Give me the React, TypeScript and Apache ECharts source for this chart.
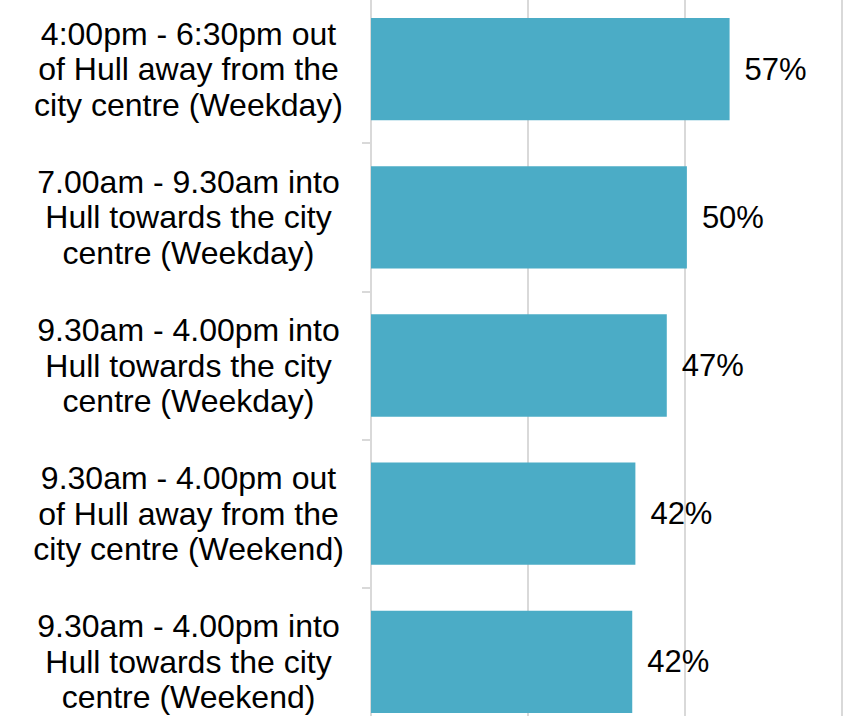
import React, { useEffect, useRef } from "react";
import * as echarts from "echarts";

const categories: string[] = [
  "4:00pm - 6:30pm out\nof Hull away from the\ncity centre (Weekday)",
  "7.00am - 9.30am into\nHull towards the city\ncentre (Weekday)",
  "9.30am - 4.00pm into\nHull towards the city\ncentre (Weekday)",
  "9.30am - 4.00pm out\nof Hull away from the\ncity centre (Weekend)",
  "9.30am - 4.00pm into\nHull towards the city\ncentre (Weekend)",
];
const values: number[] = [57.1, 50.3, 47.1, 42.1, 41.6];
const xTicks: number[] = [0, 25, 50, 75];

export default function App() {
  const ref = useRef<HTMLDivElement>(null);
  useEffect(() => {
    if (!ref.current) return;
    const chart = echarts.init(ref.current, undefined, { renderer: "svg" });
    const font = "'Liberation Sans', Arial, sans-serif";
    chart.setOption({
      animation: false,
      grid: {
        left: 371,
        right: 14,
        top: -5,
        height: 741,
        containLabel: false,
        outerBoundsMode: "none",
      },
      xAxis: {
        type: "value",
        min: xTicks[0],
        max: xTicks[xTicks.length - 1],
        interval: xTicks[1] - xTicks[0],
        axisLabel: { show: false },
        axisLine: { show: false },
        axisTick: { show: false },
        splitLine: { lineStyle: { color: "#d9d9d9", width: 2 } },
      },
      yAxis: {
        type: "category",
        inverse: true,
        data: categories,
        axisLine: { show: true, lineStyle: { color: "#d9d9d9", width: 2 } },
        axisTick: { show: true, length: 9, lineStyle: { color: "#d9d9d9", width: 2 } },
        axisLabel: {
          color: "#000",
          fontSize: 32,
          fontFamily: font,
          lineHeight: 35.5,
          align: "center",
          margin: 182.5,
        },
      },
      series: [
        {
          type: "bar",
          data: values,
          barCategoryGap: "31%",
          itemStyle: { color: "#4BACC6" },
          label: {
            show: true,
            position: "right",
            distance: 15,
            color: "#000",
            fontSize: 31,
            fontFamily: font,
            formatter: (p: any) => Math.round(p.value) + "%",
          },
        },
      ],
    });
    return () => chart.dispose();
  }, []);
  return (
    <div
      ref={ref}
      style={{ position: "absolute", left: 0, top: 0, width: 856, height: 716, background: "#fff" }}
    />
  );
}
